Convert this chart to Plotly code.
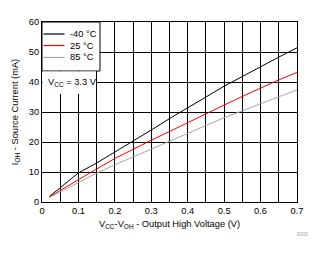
import plotly.graph_objects as go

voltage = [0.02, 0.05, 0.1, 0.15, 0.2, 0.25, 0.3, 0.35, 0.4, 0.45, 0.5, 0.55, 0.6, 0.65, 0.7]
i_m40 = [1.8, 4.8, 9.7, 13.0, 16.6, 20.3, 24.0, 27.8, 31.3, 35.0, 38.6, 41.9, 45.2, 48.3, 51.4]
i_25 = [1.7, 3.9, 7.6, 11.0, 14.5, 17.6, 20.6, 23.5, 26.5, 29.3, 32.3, 35.2, 38.0, 40.7, 43.2]
i_85 = [1.5, 3.4, 6.6, 9.6, 12.4, 15.0, 17.8, 20.4, 23.0, 25.6, 28.1, 30.4, 32.8, 35.1, 37.4]
series_names = ["-40 °C", "25 °C", "85 °C"]
series_colors = ["#000000", "#FF0000", "#A6A6A6"]
series_values = [i_m40, i_25, i_85]

FONT = "Liberation Sans, Arial, sans-serif"
FS = 9.3
W, H = 326, 254
L, R, T, B = 42, 29, 22, 52
PW, PH = W - L - R, H - T - B

fig = go.Figure()
for name, col, vals in zip(series_names, series_colors, series_values):
    fig.add_trace(go.Scatter(x=voltage, y=vals, mode="lines", name=name,
                             line=dict(color=col, width=1), showlegend=False))

def px_x(p):
    return (p - L) / PW

def px_y(p):
    return (H - B - p) / PH

shapes = []
annotations = []
# legend box
shapes.append(dict(type="rect", xref="paper", yref="paper", layer="above",
                   x0=0, x1=px_x(100), y0=px_y(71), y1=1,
                   fillcolor="white", line=dict(color="black", width=1)))
# cover behind condition text
shapes.append(dict(type="rect", xref="paper", yref="paper", layer="above",
                   x0=px_x(42.5), x1=px_x(96), y0=px_y(94), y1=px_y(71.6),
                   fillcolor="white", line=dict(width=0)))
rows = [34, 45.5, 57.5]
for (name, col), ry in zip(zip(series_names, series_colors), rows):
    shapes.append(dict(type="line", xref="paper", yref="paper", layer="above",
                       x0=px_x(43.5), x1=px_x(64.5), y0=px_y(ry), y1=px_y(ry),
                       line=dict(color=col, width=1.2)))
    annotations.append(dict(xref="paper", yref="paper", x=px_x(68), y=px_y(ry),
                            xanchor="left", yanchor="middle", showarrow=False,
                            text=name, font=dict(family=FONT, size=FS, color="black")))
annotations.append(dict(xref="paper", yref="paper", x=px_x(46), y=px_y(82.5),
                        xanchor="left", yanchor="middle", showarrow=False,
                        text="V<sub>CC</sub> = 3.3 V",
                        font=dict(family=FONT, size=FS, color="black")))
annotations.append(dict(xref="paper", yref="paper", x=px_x(310), y=px_y(234),
                        xanchor="right", yanchor="middle", showarrow=False,
                        text="D015", font=dict(family=FONT, size=4.5, color="#999999")))

fig.update_layout(
    width=W, height=H,
    margin=dict(l=L, r=R, t=T, b=B, pad=0),
    paper_bgcolor="white", plot_bgcolor="white",
    font=dict(family=FONT, size=FS, color="black"),
    shapes=shapes, annotations=annotations,
    xaxis=dict(range=[0, 0.7], dtick=0.1, tick0=0, showgrid=True,
               gridcolor="black", gridwidth=1,
               minor=dict(dtick=0.05, showgrid=True, gridcolor="black", gridwidth=1),
               showline=True, linecolor="black", linewidth=1, mirror=True,
               zeroline=False, ticks="", tickfont=dict(family=FONT, size=FS, color="black"),
               title=dict(text="V<sub>CC</sub>-V<sub>OH</sub> - Output High Voltage (V)",
                          font=dict(family=FONT, size=FS, color="black"), standoff=5)),
    yaxis=dict(range=[0, 60], dtick=10, showgrid=True, gridcolor="black", gridwidth=1,
               showline=True, linecolor="black", linewidth=1, mirror=True,
               zeroline=False, ticks="", tickfont=dict(family=FONT, size=FS, color="black"),
               title=dict(text="I<sub>OH</sub> - Source Current (mA)",
                          font=dict(family=FONT, size=FS, color="black"), standoff=8)),
)
fig.write_html("out.html")
